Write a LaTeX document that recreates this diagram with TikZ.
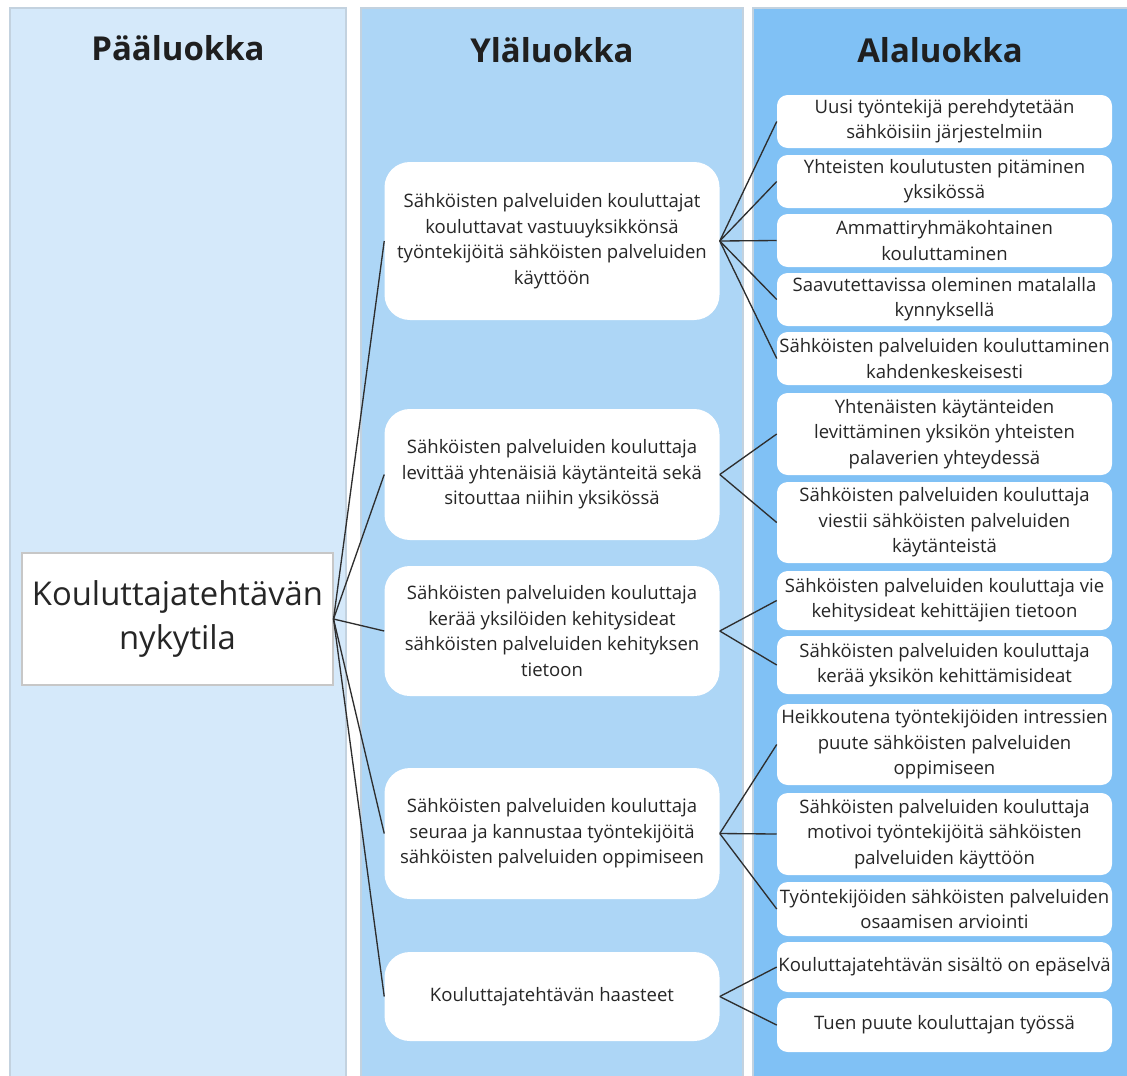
\documentclass[tikz,border=0pt]{standalone}
\usepackage{fontspec}
\setmainfont{Open Sans}
\definecolor{colA}{HTML}{D5E9FA}
\definecolor{colB}{HTML}{ADD6F6}
\definecolor{colC}{HTML}{80C1F5}
\definecolor{colEdge}{HTML}{C3D2DF}
\definecolor{txt}{HTML}{262626}
\definecolor{lin}{HTML}{2E2E2E}
\begin{document}
\begin{tikzpicture}[x=0.75pt,y=-0.75pt,
  column/.style={draw=colEdge,line width=0.9pt},
  head/.style={font=\fontsize{24.7}{28}\selectfont\bfseries,text=black!88},
  mainbox/.style={draw=black!22,line width=0.8pt,fill=white,text=txt,align=center,
    minimum width=233.25pt,minimum height=99pt,inner sep=0pt,font=\fontsize{24.6}{33}\selectfont},
  midbox/.style={fill=white,rounded corners=19pt,text=txt,align=center,
    minimum width=251.25pt,inner sep=0pt,font=\fontsize{13.9}{19.2}\selectfont},
  rbox/.style={fill=white,rounded corners=8pt,text=txt,align=center,
    minimum width=251.25pt,inner sep=0pt,font=\fontsize{13.9}{19}\selectfont},
  conn/.style={draw=lin,line width=1pt}]
\useasboundingbox (0,0) rectangle (1127,1075);
\fill[white] (0,0) rectangle (1127,1075);
% columns
\draw[column,fill=colA] (10,1080) -- (10,8) -- (346,8) -- (346,1080);
\draw[column,fill=colB] (361,1080) -- (361,8) -- (743,8) -- (743,1080);
\draw[column,fill=colC] (753,1080) -- (753,8) -- (1130,8) -- (1130,1080);
\node[head] (h1) at (178,48) {Pääluokka};
\node[head] (h2) at (552,50) {Yläluokka};
\node[head] (h3) at (940,50) {Alaluokka};
% main node
\node[mainbox] (main) at (177.5,619) {Kouluttajatehtävän\\nykytila};
% middle nodes
\node[midbox,minimum height=118.5pt] (m1) at (552,241) {Sähköisten palveluiden kouluttajat\\kouluttavat vastuuyksikkönsä\\työntekijöitä sähköisten palveluiden\\käyttöön};
\node[midbox,minimum height=98.25pt] (m2) at (552,474.5) {Sähköisten palveluiden kouluttaja\\levittää yhtenäisiä käytänteitä sekä\\sitouttaa niihin yksikössä};
\node[midbox,minimum height=97.5pt] (m3) at (552,631) {Sähköisten palveluiden kouluttaja\\kerää yksilöiden kehitysideat\\sähköisten palveluiden kehityksen\\tietoon};
\node[midbox,minimum height=98.25pt] (m4) at (552,833.5) {Sähköisten palveluiden kouluttaja\\seuraa ja kannustaa työntekijöitä\\sähköisten palveluiden oppimiseen};
\node[midbox,minimum height=66.75pt] (m5) at (552,996.5) {Kouluttajatehtävän haasteet};
% right nodes
\node[rbox,minimum height=39.75pt] (r1) at (944.5,121.5) {Uusi työntekijä perehdytetään\\sähköisiin järjestelmiin};
\node[rbox,minimum height=39.75pt] (r2) at (944.5,181.5) {Yhteisten koulutusten pitäminen\\yksikössä};
\node[rbox,minimum height=39.75pt] (r3) at (944.5,240.5) {Ammattiryhmäkohtainen\\kouluttaminen};
\node[rbox,minimum height=39.75pt] (r4) at (944.5,299.5) {Saavutettavissa oleminen matalalla\\kynnyksellä};
\node[rbox,minimum height=39.75pt] (r5) at (944.5,358.5) {Sähköisten palveluiden kouluttaminen\\kahdenkeskeisesti};
\node[rbox,minimum height=61.5pt] (r6) at (944.5,434) {Yhtenäisten käytänteiden\\levittäminen yksikön yhteisten\\palaverien yhteydessä};
\node[rbox,minimum height=60.75pt] (r7) at (944.5,522.5) {Sähköisten palveluiden kouluttaja\\viestii sähköisten palveluiden\\käytänteistä};
\node[rbox,minimum height=44.25pt] (r8) at (944.5,600.5) {Sähköisten palveluiden kouluttaja vie\\kehitysideat kehittäjien tietoon};
\node[rbox,minimum height=43.5pt] (r9) at (944.5,665) {Sähköisten palveluiden kouluttaja\\kerää yksikön kehittämisideat};
\node[rbox,minimum height=60.75pt] (r10) at (944.5,744.5) {Heikkoutena työntekijöiden intressien\\puute sähköisten palveluiden\\oppimiseen};
\node[rbox,minimum height=61.5pt] (r11) at (944.5,834) {Sähköisten palveluiden kouluttaja\\motivoi työntekijöitä sähköisten\\palveluiden käyttöön};
\node[rbox,minimum height=40.5pt] (r12) at (944.5,909) {Työntekijöiden sähköisten palveluiden\\osaamisen arviointi};
\node[rbox,minimum height=37.5pt] (r13) at (944.5,967) {Kouluttajatehtävän sisältö on epäselvä};
\node[rbox,minimum height=40.5pt] (r14) at (944.5,1025) {Tuen puute kouluttajan työssä};
% connectors main -> middle
\foreach \m in {m1,m2,m3,m4,m5}{\draw[conn] (main.east) -- (\m.west);}
% middle -> right
\foreach \r in {r1,r2,r3,r4,r5}{\draw[conn] (m1.east) -- (\r.west);}
\foreach \r in {r6,r7}{\draw[conn] (m2.east) -- (\r.west);}
\foreach \r in {r8,r9}{\draw[conn] (m3.east) -- (\r.west);}
\foreach \r in {r10,r11,r12}{\draw[conn] (m4.east) -- (\r.west);}
\foreach \r in {r13,r14}{\draw[conn] (m5.east) -- (\r.west);}
\end{tikzpicture}
\end{document}
